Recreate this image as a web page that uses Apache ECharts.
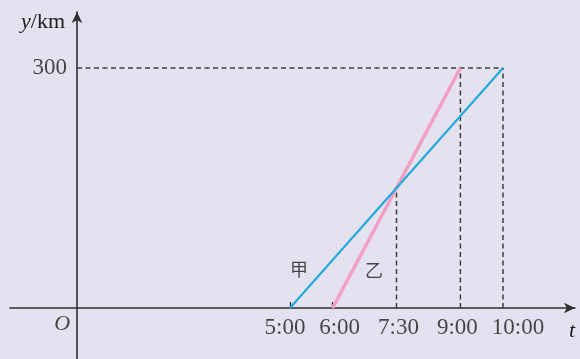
<!DOCTYPE html>
<html>
<head>
<meta charset="utf-8">
<script src="https://cdn.jsdelivr.net/npm/echarts@6/dist/echarts.min.js"></script>
<style>
html,body{margin:0;padding:0;background:#e4e2ef;}
#c{width:580px;height:359px;}
</style>
</head>
<body>
<div id="c"></div>
<script>
// Data
var jiaLine = [[5, 0], [10, 300]];   // 甲
var yiLine = [[6, 0], [9, 300]];     // 乙
var xTickValues = [5, 6, 7.5, 9, 10];
var xTickLabels = ['5:00', '6:00', '7:30', '9:00', '10:00'];
var yTickValues = [300];
var yTickLabels = ['300'];
var lineNames = ['甲', '乙'];

// intersection of the two lines
function lineAt(l, t) { return l[0][1] + (l[1][1] - l[0][1]) * (t - l[0][0]) / (l[1][0] - l[0][0]); }
var sJ = (jiaLine[1][1] - jiaLine[0][1]) / (jiaLine[1][0] - jiaLine[0][0]);
var sY = (yiLine[1][1] - yiLine[0][1]) / (yiLine[1][0] - yiLine[0][0]);
var tMeet = (sJ * jiaLine[0][0] - sY * yiLine[0][0]) / (sJ - sY);
var yMeet = lineAt(jiaLine, tMeet);
var yTop = yTickValues[0];

var serif = "'Liberation Serif','Times New Roman',serif";
var txt = '#1c1c1c';
var dashStyle = { color: '#3c3c3c', width: 1.5, type: [5, 3.5] };
var labelShift = { '5:00': -5, '6:00': 7, '7:30': 2, '9:00': -3, '10:00': 15 };

var chart = echarts.init(document.getElementById('c'));
chart.setOption({
  backgroundColor: '#e4e2ef',
  animation: false,
  grid: { left: 10, right: 5, top: 12, bottom: 0, containLabel: false, outerBoundsMode: 'none' },
  xAxis: {
    type: 'value', min: -1.5728, max: 11.690,
    splitLine: { show: false },
    axisLine: { onZero: true, lineStyle: { color: '#2e2e2e', width: 1.6 }, symbol: ['none', 'arrow'], symbolSize: [8, 11] },
    axisTick: { show: true, inside: true, length: 6, customValues: [jiaLine[0][0], yiLine[0][0]], lineStyle: { color: '#2e2e2e', width: 1.3 } },
    axisLabel: { show: false },
    name: 't', nameLocation: 'end', nameGap: -6,
    nameTextStyle: { fontFamily: serif, fontStyle: 'italic', fontSize: 22, color: txt, align: 'left', verticalAlign: 'top', padding: [12, 0, 0, 0] }
  },
  yAxis: {
    type: 'value', min: -63.75, max: 370,
    splitLine: { show: false },
    axisLine: { onZero: true, lineStyle: { color: '#2e2e2e', width: 1.6 }, symbol: ['none', 'arrow'], symbolSize: [8, 11] },
    axisTick: { show: false },
    axisLabel: { show: false },
    name: '{i|y}{n|/km}', nameLocation: 'end', nameGap: -10,
    nameTextStyle: {
      align: 'right', verticalAlign: 'middle', padding: [0, 12, 0, 0],
      rich: {
        i: { fontFamily: serif, fontStyle: 'italic', fontSize: 22, color: txt },
        n: { fontFamily: serif, fontSize: 22, color: txt }
      }
    }
  },
  series: [
    { type: 'line', data: [[0, yTop], [jiaLine[1][0], yTop]], symbol: 'none', lineStyle: dashStyle, silent: true },
    { type: 'line', data: [[tMeet, 0], [tMeet, yMeet]], symbol: 'none', lineStyle: dashStyle, silent: true },
    { type: 'line', data: [[yiLine[1][0], 0], [yiLine[1][0], yTop]], symbol: 'none', lineStyle: dashStyle, silent: true },
    { type: 'line', data: [[jiaLine[1][0], 0], [jiaLine[1][0], yTop]], symbol: 'none', lineStyle: dashStyle, silent: true },
    { name: lineNames[1], type: 'line', data: yiLine, symbol: 'none', lineStyle: { color: '#f39ec4', width: 3.5 }, z: 3 },
    { name: lineNames[0], type: 'line', data: jiaLine, symbol: 'none', lineStyle: { color: '#1ba8df', width: 2 }, z: 4 },
    {
      // x tick labels, placed on the axis through the x scale
      type: 'scatter', symbolSize: 0, silent: true,
      data: xTickValues.map(function (v, i) { return { value: [v, 0], name: xTickLabels[i] }; }),
      label: {
        show: true, position: 'bottom', distance: 8,
        formatter: function (p) { return p.name; },
        fontFamily: serif, fontSize: 23, color: txt
      },
      labelLayout: function (params) {
        var d = labelShift[params.text] || 0;
        return { dx: d };
      }
    },
    {
      // y tick labels
      type: 'scatter', symbolSize: 0, silent: true,
      data: yTickValues.map(function (v, i) { return { value: [0, v], name: yTickLabels[i] }; }),
      label: { show: true, position: 'left', distance: 10, formatter: '{b}', fontFamily: serif, fontSize: 23, color: txt }
    },
    {
      type: 'scatter', symbolSize: 0, silent: true,
      data: [
        { value: [5.21, 48.75], name: lineNames[0] },
        { value: [6.97, 47.5], name: lineNames[1] }
      ],
      label: { show: true, position: 'inside', formatter: '{b}', fontFamily: "'Noto Sans CJK SC',sans-serif", fontSize: 18, color: txt }
    },
    {
      type: 'scatter', symbolSize: 0, silent: true,
      data: [{ value: [-0.35, -20], name: 'O' }],
      label: { show: true, position: 'inside', formatter: '{b}', fontFamily: serif, fontStyle: 'italic', fontSize: 22, color: txt }
    }
  ]
});
</script>
</body>
</html>
